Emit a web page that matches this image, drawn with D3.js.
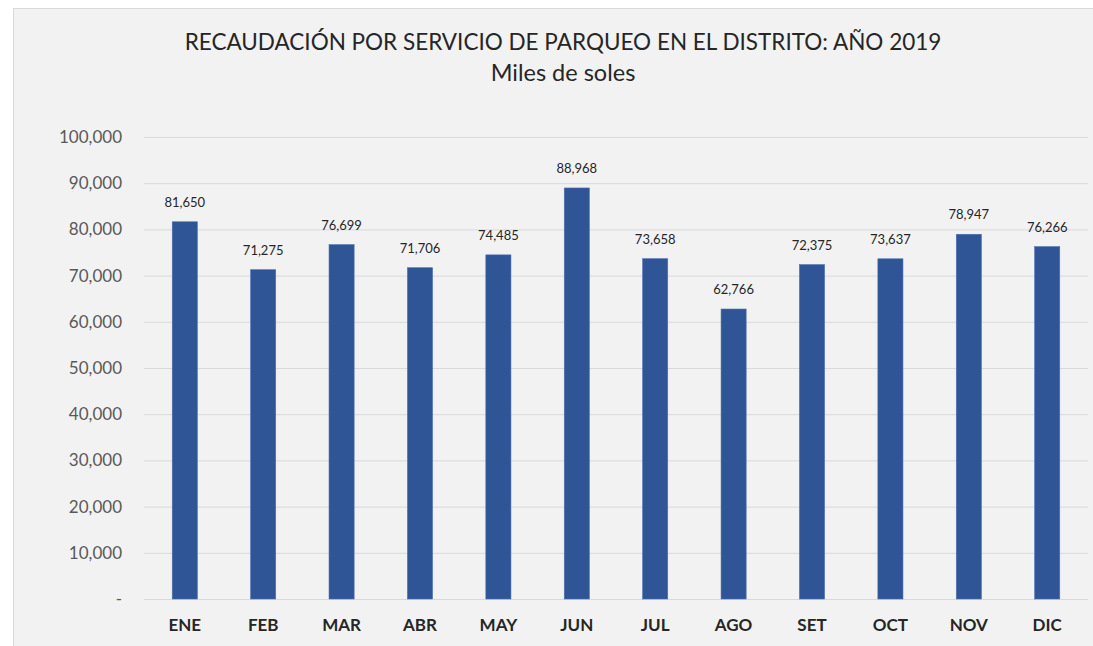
<!DOCTYPE html>
<html>
<head>
<meta charset="utf-8">
<script src="https://cdn.jsdelivr.net/npm/d3@7"></script>
<style>
  body { margin: 0; background: #ffffff; }
  svg { display: block; font-family: Lato, "Open Sans", sans-serif; }
</style>
</head>
<body>
<svg id="chart" width="1093" height="646"></svg>
<script>
const months = ["ENE", "FEB", "MAR", "ABR", "MAY", "JUN", "JUL", "AGO", "SET", "OCT", "NOV", "DIC"];
const values = [81650, 71275, 76699, 71706, 74485, 88968, 73658, 62766, 72375, 73637, 78947, 76266];
const yTicks = [0, 10000, 20000, 30000, 40000, 50000, 60000, 70000, 80000, 90000, 100000];

const svg = d3.select("#chart");
const width = 1093, height = 646;
const margin = { top: 137, right: 5, bottom: 47, left: 144 };

// panel background with thin border
svg.append("rect")
    .attr("x", 13.5).attr("y", 8.5)
    .attr("width", width - 13).attr("height", height - 8)
    .attr("fill", "#f2f2f2")
    .attr("stroke", "#d9d9d9");

const x = d3.scaleBand()
    .domain(months)
    .range([margin.left, width - margin.right])
    .paddingInner(0.68)
    .paddingOuter(0.36);

const y = d3.scaleLinear()
    .domain([0, 100000])
    .range([height - margin.bottom, margin.top]);

// gridlines
svg.append("g")
    .selectAll("line")
    .data(yTicks)
    .join("line")
    .attr("x1", margin.left)
    .attr("x2", width - margin.right)
    .attr("y1", d => y(d) + 0.5)
    .attr("y2", d => y(d) + 0.5)
    .attr("stroke", "#d9d9d9")
    .attr("stroke-width", 1);

// y axis labels
const fmt = d3.format(",");
svg.append("g")
    .selectAll("text")
    .data(yTicks)
    .join("text")
    .attr("x", 122)
    .attr("y", d => y(d))
    .attr("dy", "0.35em")
    .attr("text-anchor", "end")
    .attr("fill", "#595959")
    .style("font-size", "17px")
    .text(d => d === 0 ? "-" : fmt(d));

// bars
svg.append("g")
    .selectAll("rect")
    .data(values)
    .join("rect")
    .attr("x", (d, i) => x(months[i]))
    .attr("y", d => y(d))
    .attr("width", x.bandwidth())
    .attr("height", d => y(0) - y(d))
    .attr("fill", "#2f5597")
    .attr("stroke", "#4a6fb0")
    .attr("stroke-width", 0.6);

// value labels
svg.append("g")
    .selectAll("text")
    .data(values)
    .join("text")
    .attr("x", (d, i) => x(months[i]) + x.bandwidth() / 2)
    .attr("y", d => y(d) - 15)
    .attr("text-anchor", "middle")
    .attr("fill", "#262626")
    .style("font-size", "13px")
    .text(d => fmt(d));

// x axis labels
svg.append("g")
    .selectAll("text")
    .data(months)
    .join("text")
    .attr("x", d => x(d) + x.bandwidth() / 2)
    .attr("y", 631)
    .attr("text-anchor", "middle")
    .attr("fill", "#262626")
    .style("font-size", "17px")
    .style("font-weight", "bold")
    .text(d => d);

// titles
svg.append("text")
    .attr("x", 563)
    .attr("y", 50)
    .attr("text-anchor", "middle")
    .attr("fill", "#262626")
    .style("font-size", "22.5px")
    .text("RECAUDACIÓN POR SERVICIO DE PARQUEO EN EL DISTRITO: AÑO 2019");

svg.append("text")
    .attr("x", 563)
    .attr("y", 81)
    .attr("text-anchor", "middle")
    .attr("fill", "#262626")
    .style("font-size", "23.5px")
    .text("Miles de soles");
</script>
</body>
</html>
